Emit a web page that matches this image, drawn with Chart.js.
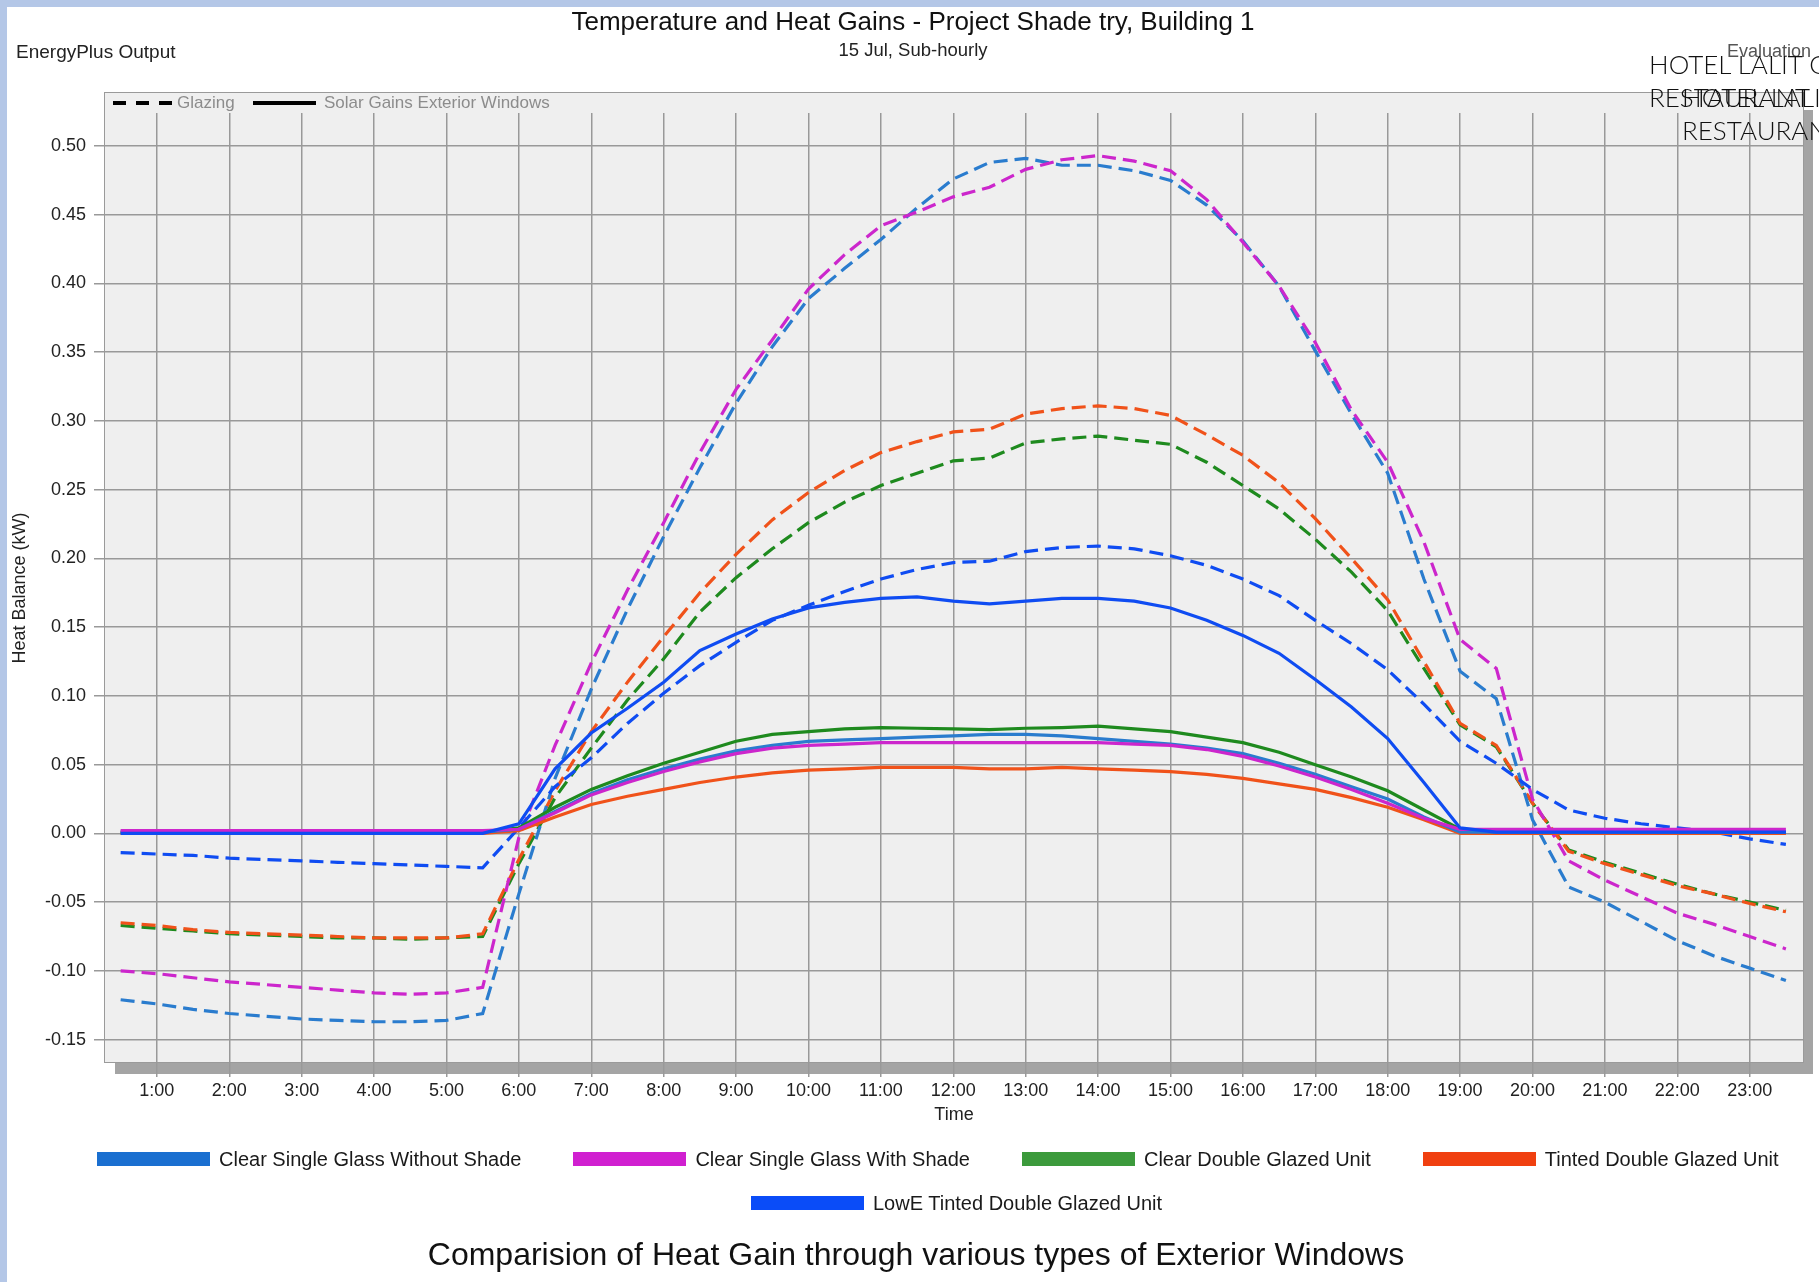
<!DOCTYPE html>
<html>
<head>
<meta charset="utf-8">
<title>Temperature and Heat Gains</title>
<script src="https://cdn.jsdelivr.net/npm/chart.js@4.4.1/dist/chart.umd.min.js"></script>
<style>
  html, body { margin: 0; padding: 0; background: #fff; }
  body { width: 1819px; height: 1282px; position: relative; overflow: hidden; font-family: 'Liberation Sans', Arial, sans-serif; }
  #chart { position: absolute; left: 0; top: 0; }
  .strip-top { position: absolute; left: 0; top: 0; width: 1819px; height: 7px; background: #b4c7e7; z-index: 5; }
  .strip-left { position: absolute; left: 0; top: 0; width: 7px; height: 1282px; background: #b4c7e7; z-index: 5; }
  .note { position: absolute; white-space: nowrap; line-height: 1; }
  #energyplus { left: 16px; top: 42px; font-size: 19px; color: #222; }
  #evaluation { left: 1727px; top: 42px; font-size: 18px; color: #555; }
  .hotel { position: absolute; white-space: nowrap; font-family: 'URW Gothic', 'Century Gothic', Lato, sans-serif; font-weight: 300; font-size: 26px; line-height: 33px; color: #111; z-index: 4; }
  #hotelA { left: 1649px; top: 48px; }
  #hotelB { left: 1682px; top: 81px; }
  .legend-row { position: absolute; display: flex; align-items: center; gap: 52px; height: 20px; font-size: 20px; color: #1a1a1a; }
  .legend-item { display: flex; align-items: center; white-space: nowrap; }
  .swatch { width: 113px; height: 14px; margin-right: 9px; }
  #row1 { left: 97px; top: 1149px; }
  #row2 { left: 751px; top: 1193px; }
  #caption { left: 916px; top: 1238px; transform: translateX(-50%); font-size: 32px; color: #111; }
</style>
</head>
<body>
<div class="strip-top"></div>
<div class="strip-left"></div>
<canvas id="chart" width="1819" height="1282"></canvas>
<div class="note" id="energyplus">EnergyPlus Output</div>
<div class="note" id="evaluation">Evaluation</div>
<div class="hotel" id="hotelA">HOTEL LALIT C<br>RESTAURANT</div>
<div class="hotel" id="hotelB">HOTEL LALIT C<br>RESTAURANT</div>
<div class="legend-row" id="row1"></div>
<div class="legend-row" id="row2"></div>
<div class="note" id="caption">Comparision of Heat Gain through various types of Exterior Windows</div>

<script>
// time of day in hours (sub-hourly, every 30 min)
const hours = [0.5, 1, 1.5, 2, 2.5, 3, 3.5, 4, 4.5, 5, 5.5, 6, 6.5, 7, 7.5, 8, 8.5, 9, 9.5, 10, 10.5, 11, 11.5, 12,
  12.5, 13, 13.5, 14, 14.5, 15, 15.5, 16, 16.5, 17, 17.5, 18, 18.5, 19, 19.5, 20, 20.5, 21, 21.5, 22, 22.5, 23, 23.5];

const seriesNames = ['Clear Single Glass Without Shade', 'Clear Single Glass With Shade', 'Clear Double Glazed Unit',
  'Tinted Double Glazed Unit', 'LowE Tinted Double Glazed Unit'];

// Glazing (kW) - dashed
const singleNoShadeGlazing = [-0.121, -0.124, -0.128, -0.131, -0.133, -0.135, -0.136, -0.137, -0.137, -0.136, -0.131,
  -0.044, 0.040, 0.105, 0.163, 0.216, 0.266, 0.313, 0.354, 0.389, 0.411, 0.432, 0.455, 0.476, 0.488, 0.491, 0.486,
  0.486, 0.482, 0.475, 0.457, 0.431, 0.398, 0.351, 0.305, 0.262, 0.185, 0.118, 0.098, 0.010, -0.039, -0.050, -0.064,
  -0.078, -0.089, -0.098, -0.107];
const singleShadeGlazing = [-0.100, -0.102, -0.105, -0.108, -0.110, -0.112, -0.114, -0.116, -0.117, -0.116, -0.112,
  -0.003, 0.064, 0.124, 0.177, 0.226, 0.277, 0.323, 0.359, 0.396, 0.421, 0.442, 0.452, 0.463, 0.470, 0.483, 0.490,
  0.493, 0.489, 0.482, 0.461, 0.430, 0.398, 0.357, 0.308, 0.270, 0.212, 0.141, 0.120, 0.025, -0.020, -0.034, -0.046,
  -0.058, -0.066, -0.075, -0.084];
const doubleGlazing = [-0.067, -0.069, -0.071, -0.073, -0.074, -0.075, -0.076, -0.076, -0.077, -0.076, -0.075,
  -0.022, 0.026, 0.062, 0.097, 0.127, 0.161, 0.186, 0.207, 0.226, 0.241, 0.253, 0.262, 0.271, 0.273, 0.284, 0.287,
  0.289, 0.286, 0.283, 0.270, 0.253, 0.236, 0.214, 0.190, 0.162, 0.120, 0.079, 0.063, 0.022, -0.012, -0.021, -0.029,
  -0.037, -0.044, -0.050, -0.056];
const tintedGlazing = [-0.065, -0.067, -0.070, -0.072, -0.073, -0.074, -0.075, -0.076, -0.076, -0.076, -0.073,
  -0.019, 0.031, 0.074, 0.110, 0.143, 0.175, 0.203, 0.228, 0.248, 0.264, 0.277, 0.285, 0.292, 0.294, 0.305, 0.309,
  0.311, 0.309, 0.304, 0.290, 0.275, 0.255, 0.229, 0.200, 0.170, 0.125, 0.080, 0.064, 0.022, -0.013, -0.022, -0.030,
  -0.038, -0.044, -0.051, -0.057];
const lowEGlazing = [-0.014, -0.015, -0.016, -0.018, -0.019, -0.020, -0.021, -0.022, -0.023, -0.024, -0.025,
  0.004, 0.034, 0.055, 0.080, 0.102, 0.122, 0.139, 0.155, 0.166, 0.176, 0.185, 0.192, 0.197, 0.198, 0.205, 0.208,
  0.209, 0.207, 0.202, 0.195, 0.185, 0.173, 0.155, 0.138, 0.119, 0.094, 0.067, 0.051, 0.032, 0.017, 0.011, 0.007,
  0.004, 0.001, -0.004, -0.008];

// Solar Gains Exterior Windows (kW) - solid
const singleNoShadeSolar = [0.001, 0.001, 0.001, 0.001, 0.001, 0.001, 0.001, 0.001, 0.001, 0.001, 0.001,
  0.003, 0.016, 0.029, 0.039, 0.047, 0.054, 0.060, 0.064, 0.067, 0.068, 0.069, 0.070, 0.071, 0.072, 0.072, 0.071,
  0.069, 0.067, 0.065, 0.062, 0.058, 0.051, 0.043, 0.034, 0.025, 0.012, 0.001, 0.001, 0.001, 0.001, 0.001, 0.001,
  0.001, 0.001, 0.001, 0.001];
const singleShadeSolar = [0.002, 0.002, 0.002, 0.002, 0.002, 0.002, 0.002, 0.002, 0.002, 0.002, 0.002,
  0.003, 0.015, 0.028, 0.037, 0.045, 0.052, 0.058, 0.062, 0.064, 0.065, 0.066, 0.066, 0.066, 0.066, 0.066, 0.066,
  0.066, 0.065, 0.064, 0.061, 0.056, 0.049, 0.041, 0.032, 0.022, 0.011, 0.003, 0.003, 0.003, 0.003, 0.003, 0.003,
  0.003, 0.003, 0.003, 0.003];
const doubleSolar = [0.001, 0.001, 0.001, 0.001, 0.001, 0.001, 0.001, 0.001, 0.001, 0.001, 0.001,
  0.004, 0.019, 0.032, 0.042, 0.051, 0.059, 0.067, 0.072, 0.074, 0.076, 0.077, 0.0765, 0.076, 0.0755, 0.0765, 0.077,
  0.078, 0.076, 0.074, 0.070, 0.066, 0.059, 0.050, 0.041, 0.031, 0.017, 0.003, 0.001, 0.001, 0.001, 0.001, 0.001,
  0.001, 0.001, 0.001, 0.001];
const tintedSolar = [0, 0, 0, 0, 0, 0, 0, 0, 0, 0, 0,
  0.002, 0.012, 0.021, 0.027, 0.032, 0.037, 0.041, 0.044, 0.046, 0.047, 0.048, 0.048, 0.048, 0.047, 0.047, 0.048,
  0.047, 0.046, 0.045, 0.043, 0.040, 0.036, 0.032, 0.026, 0.019, 0.010, 0, 0, 0, 0, 0, 0,
  0, 0, 0, 0];
const lowESolar = [0, 0, 0, 0, 0, 0, 0, 0, 0, 0, 0,
  0.007, 0.047, 0.073, 0.091, 0.110, 0.133, 0.145, 0.156, 0.164, 0.168, 0.171, 0.172, 0.169, 0.167, 0.169, 0.171,
  0.171, 0.169, 0.164, 0.155, 0.144, 0.131, 0.112, 0.092, 0.069, 0.037, 0.004, 0.001, 0.001, 0.001, 0.001, 0.001,
  0.001, 0.001, 0.001, 0.001];

const glazingSeries = [singleNoShadeGlazing, singleShadeGlazing, doubleGlazing, tintedGlazing, lowEGlazing];
const solarSeries = [singleNoShadeSolar, singleShadeSolar, doubleSolar, tintedSolar, lowESolar];

const lineColors = ['#2a7cce', '#cc26cc', '#1e8a1e', '#f0521a', '#0f4cf2'];
const swatchColors = ['#1a6fd0', '#d020d0', '#3c9a3c', '#f04010', '#0a4cf8'];

function toPoints(values) {
  return hours.map((h, i) => ({ x: h, y: values[i] }));
}

// index 0 ends up on top when Chart.js draws
const solidOrder = [4, 1, 0, 2, 3];
const dashedOrder = [4, 1, 0, 3, 2];
const datasets = [];
solidOrder.forEach(i => {
  datasets.push({
    label: seriesNames[i] + ' - Solar Gains Exterior Windows',
    data: toPoints(solarSeries[i]),
    borderColor: lineColors[i],
    borderWidth: 3.2,
    pointRadius: 0,
    tension: 0
  });
});
dashedOrder.forEach(i => {
  datasets.push({
    label: seriesNames[i] + ' - Glazing',
    data: toPoints(glazingSeries[i]),
    borderColor: lineColors[i],
    borderWidth: 3.2,
    borderDash: [14, 7],
    pointRadius: 0,
    tension: 0
  });
});

// plot box with drop shadow, drawn under the grid
const plotBox = {
  id: 'plotBox',
  beforeDraw(chart) {
    const { ctx, chartArea: a } = chart;
    ctx.save();
    ctx.fillStyle = '#a4a4a4';
    ctx.fillRect(a.left + 11, a.top - 3, a.right - a.left - 2, a.bottom - a.top + 14);
    ctx.fillStyle = '#efefef';
    ctx.fillRect(a.left, a.top - 21, a.right - a.left, a.bottom - a.top + 21);
    ctx.strokeStyle = '#9a9a9a';
    ctx.lineWidth = 1;
    ctx.strokeRect(a.left + 0.5, a.top - 20.5, a.right - a.left - 1, a.bottom - a.top + 20);
    ctx.restore();
  }
};

// line style key in the strip above the grid
const styleKey = {
  id: 'styleKey',
  afterDatasetsDraw(chart) {
    const { ctx, chartArea: a } = chart;
    const y = a.top - 10;
    ctx.save();
    ctx.strokeStyle = '#000';
    ctx.lineWidth = 4;
    ctx.setLineDash([13, 10]);
    ctx.beginPath();
    ctx.moveTo(a.left + 9, y);
    ctx.lineTo(a.left + 68, y);
    ctx.stroke();
    ctx.setLineDash([]);
    ctx.beginPath();
    ctx.moveTo(a.left + 149, y);
    ctx.lineTo(a.left + 212, y);
    ctx.stroke();
    ctx.fillStyle = '#8c8c8c';
    ctx.font = "17px 'Liberation Sans', Arial, sans-serif";
    ctx.textBaseline = 'middle';
    ctx.fillText('Glazing', a.left + 73, y);
    ctx.fillText('Solar Gains Exterior Windows', a.left + 220, y);
    ctx.restore();
  }
};

Chart.defaults.font.family = "'Liberation Sans', Arial, sans-serif";
Chart.defaults.color = '#222';

new Chart(document.getElementById('chart'), {
  type: 'line',
  data: { datasets: datasets },
  plugins: [plotBox, styleKey],
  options: {
    responsive: false,
    animation: false,
    // left padding nudges the centred titles; the y axis width is cut to match
    layout: { padding: { left: 22, right: 15, top: 0, bottom: 152 } },
    plugins: {
      legend: { display: false },
      tooltip: { enabled: false },
      title: {
        display: true,
        text: 'Temperature and Heat Gains - Project Shade try, Building 1',
        color: '#111',
        font: { size: 26, weight: 'normal' },
        padding: { top: 7, bottom: 2 }
      },
      subtitle: {
        display: true,
        text: '15 Jul, Sub-hourly',
        color: '#222',
        font: { size: 18.5 },
        padding: { top: 0, bottom: 50.6 }
      }
    },
    scales: {
      x: {
        type: 'linear',
        min: 0.27,
        max: 23.75,
        border: { display: false },
        grid: { color: '#999', lineWidth: 1.5, tickLength: 14 },
        ticks: {
          stepSize: 1,
          includeBounds: false,
          autoSkip: false,
          maxRotation: 0,
          padding: 3,
          font: { size: 18 },
          callback: v => v + ':00'
        },
        title: { display: true, text: 'Time', font: { size: 18 }, padding: { top: 4, bottom: 4 } },
        afterFit(scale) { scale.height = 67; }
      },
      y: {
        min: -0.167,
        max: 0.524,
        border: { display: false },
        grid: { color: '#999', lineWidth: 1.5, tickLength: 10 },
        ticks: {
          stepSize: 0.05,
          includeBounds: false,
          padding: 8,
          font: { size: 18 },
          callback: v => v.toFixed(2)
        },
        title: { display: true, text: 'Heat Balance (kW)', font: { size: 18 }, padding: { top: -13, bottom: 0 } },
        afterFit(scale) { scale.width = 82; }
      }
    }
  }
});

// colour key under the chart
function addLegendItem(row, i) {
  const item = document.createElement('div');
  item.className = 'legend-item';
  item.innerHTML = '<span class="swatch" style="background:' + swatchColors[i] + '"></span><span>' + seriesNames[i] + '</span>';
  row.appendChild(item);
}
const row1 = document.getElementById('row1');
const row2 = document.getElementById('row2');
[0, 1, 2, 3].forEach(i => addLegendItem(row1, i));
addLegendItem(row2, 4);
</script>
</body>
</html>
